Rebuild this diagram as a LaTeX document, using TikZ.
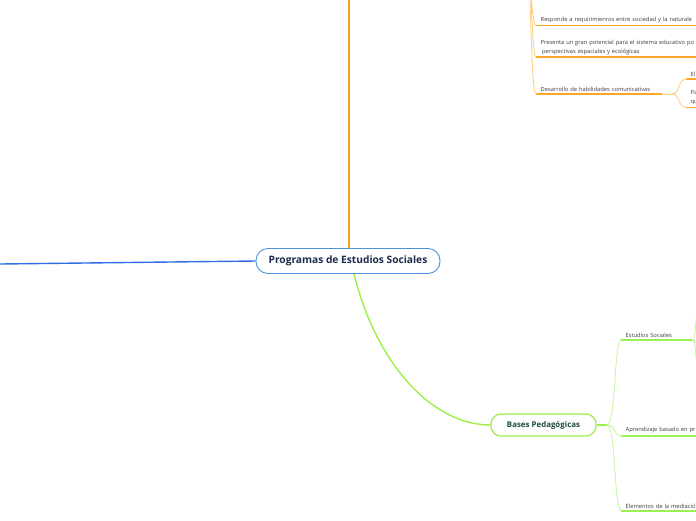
\documentclass[tikz,border=0pt]{standalone}
\usepackage{fontspec}
\setmainfont{Open Sans}
\definecolor{borange}{HTML}{F5A11C}
\definecolor{uorange}{HTML}{FFA726}
\definecolor{lorange}{HTML}{FFCB7A}
\definecolor{bblue}{HTML}{2F6FE8}
\definecolor{cborder}{HTML}{4A93DA}
\definecolor{ctext}{HTML}{1B2A4E}
\definecolor{bgreen}{HTML}{9EEE46}
\definecolor{ugreen}{HTML}{9CF050}
\definecolor{lgreen}{HTML}{CBF5A0}
\definecolor{gtext}{HTML}{1F4A3C}
\definecolor{ltext}{HTML}{3A3A3A}
\begin{document}
\begin{tikzpicture}[x=1pt,y=-1pt,
  central/.style={draw=cborder, line width=0.9pt, fill=white, rounded corners=12pt,
    minimum width=184pt, minimum height=25pt, inner sep=0pt, text=ctext,
    font=\fontsize{10.2}{12}\selectfont\bfseries},
  mainbox/.style={draw=bgreen, line width=1.2pt, fill=white, rounded corners=10pt,
    minimum width=105pt, minimum height=22pt, inner sep=0pt, text=gtext,
    font=\fontsize{7.9}{9}\selectfont\bfseries},
  leaf/.style={anchor=south west, align=left, inner xsep=4.5pt, inner ysep=2pt,
    text=ltext, font=\fontsize{5.75}{9}\selectfont},
  ou/.style={draw=uorange, line width=1.5pt},
  ob/.style={draw=lorange, line width=0.8pt},
  gu/.style={draw=ugreen, line width=2pt},
  gb/.style={draw=lgreen, line width=0.9pt}]
\useasboundingbox (0,0) rectangle (696,520);
\clip (0,0) rectangle (696,520);

% central node
\node[central] (c) at (348,261) {Programas de Estudios Sociales};

% left blue branch
\coordinate (bl) at (0,264);
\draw[bblue, line width=1.4pt] (c.west) -- (bl);

% top orange branch
\coordinate (ot) at (348.5,0);
\draw[borange, line width=2pt] (c.north -| ot) -- (ot);

% orange leaves (top right)
\coordinate (oj) at (524,-70);
\node[leaf, text width=200pt] (r1) at (536,25.5) {Responde a requirimienros entre sociedad y la naturale};
\node[leaf, text width=200pt] (r2) at (536,57) {Presenta un gran potencial para el sistema educativo po\\\hspace*{1.5pt}perspectivas espaciales y ecológicas};
\node[leaf, text width=117pt] (r3) at (536,94) {Desarrollo de habilidades comunicativas};
\draw[ou] (r1.south west) -- (r1.south east);
\draw[ou] (r2.south west) -- (r2.south east);
\draw[ou] (r3.south west) -- (r3.south east);
\draw[ob] (oj) .. controls (530,-70) and (530,25.5) .. (r1.south west);
\draw[ob] (oj) .. controls (531,-70) and (531,57) .. (r2.south west);
\draw[ob] (oj) .. controls (531,-70) and (530,94) .. (r3.south west);

\coordinate (dj) at (672,94);
\node[leaf, text width=30pt] (s1) at (686,79) {El a};
\node[leaf, text width=30pt] (s2) at (686,107.5) {Pa\\qu};
\draw[ob] (r3.south east) -- (dj);
\draw[ou] (s1.south west) -- (s1.south east);
\draw[ou] (s2.south west) -- (s2.south east);
\draw[ob] (dj) .. controls (680,94) and (678,79) .. (s1.south west);
\draw[ob] (dj) .. controls (680,94) and (678,107.5) .. (s2.south west);

% green branch
\node[mainbox] (b) at (543.5,425) {Bases Pedagógicas};
\draw[bgreen, line width=1.4pt] ([xshift=6pt]c.south) .. controls (375,360) and (430,425) .. (b.west);

\coordinate (bj) at (607,425);
\draw[gu] (b.east) -- (bj);
\node[leaf, text width=62pt] (g1) at (621,340) {Estudios Sociales};
\node[leaf, text width=110pt] (g2) at (621,435.5) {Aprendizaje basado en pr};
\node[leaf, text width=110pt] (g3) at (621,510.5) {Elementos de la mediació};
\draw[gu] (g1.south west) -- (g1.south east);
\draw[gu] (g2.south west) -- (g2.south east);
\draw[gu] (g3.south west) -- (g3.south east);
\draw[gb] (bj) .. controls (616,425) and (614,340) .. (g1.south west);
\draw[gb] (bj) .. controls (616,425) and (613,435.5) .. (g2.south west);
\draw[gb] (bj) .. controls (616,425) and (614,510.5) .. (g3.south west);

% sub-branches of Estudios Sociales (leaving the picture)
\coordinate (e1) at (700,300);
\coordinate (e2) at (700,345);
\coordinate (e3) at (700,380);
\draw[gb] (g1.south east) .. controls (697,340) and (694,315) .. (e1);
\draw[gb] (g1.south east) .. controls (697,340) and (696,345) .. (e2);
\draw[gb] (g1.south east) .. controls (697,340) and (694,360) .. (e3);
\end{tikzpicture}
\end{document}
